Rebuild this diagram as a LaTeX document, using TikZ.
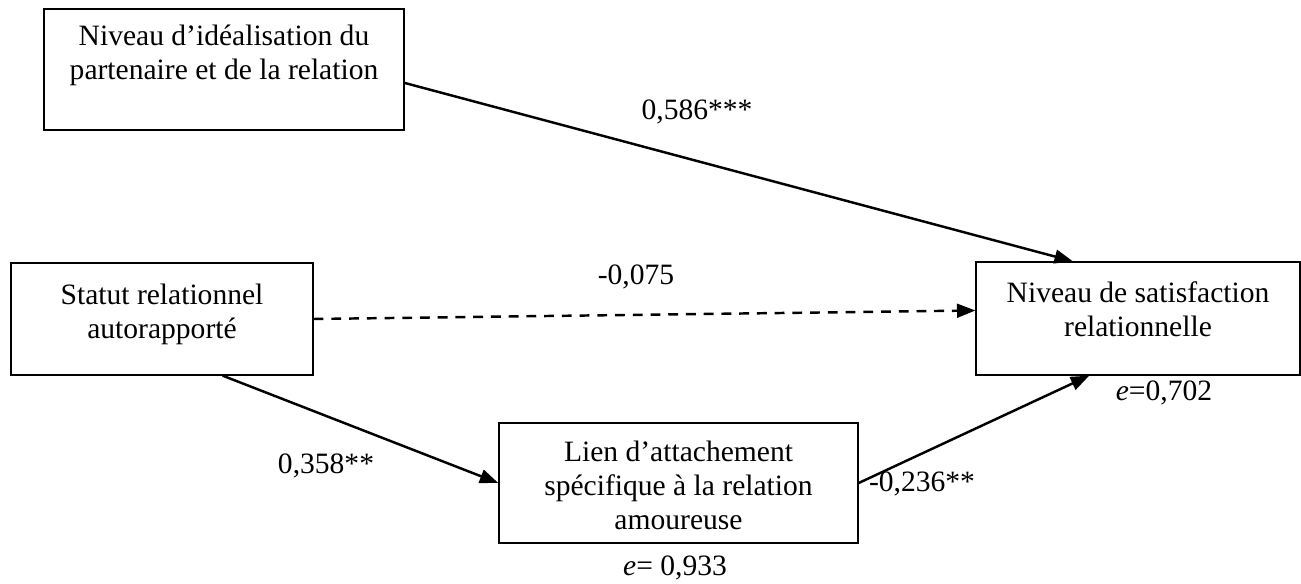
\documentclass[tikz,border=0pt]{standalone}
\usepackage{fontspec}
\setmainfont{Liberation Serif}
\usetikzlibrary{
  calc
  , arrows.meta
}

\begin{document}
\begin{tikzpicture}[x=0.406pt, y=-0.406pt,
    every node/.style={font=\fontsize{12}{13.8}\selectfont},
    varbox/.style={draw, rectangle, line width=0.5pt},
    vartext/.style={align=center, inner sep=0pt},
    effet/.style={-{Triangle[length=7.5pt,width=5.6pt]}, line width=1pt},
    coef/.style={inner sep=0pt}]
      \useasboundingbox (0,0) rectangle (1301,584);

      % variables
      \node [varbox,
        minimum width=146.2pt,
        minimum height=49.1pt,
      ] (Ideal) at (224, 69.5){};
      \node[vartext] (IdealTxt) at (224, 55) {Niveau d’idéalisation du\\partenaire et de la relation};

      \node [varbox,
        minimum width=122.6pt,
        minimum height=45.5pt,
      ] (Statut) at (162, 319){};
      \node[vartext] (StatutTxt) at (162, 314) {Statut relationnel\\autorapporté};

      \node [varbox,
        minimum width=131.5pt,
        minimum height=45.9pt,
      ] (Satisf) at (1138, 318.5){};
      \node[vartext] (SatisfTxt) at (1138, 309) {Niveau de satisfaction\\relationnelle};

      \node [varbox,
        minimum width=145.8pt,
        minimum height=48.7pt,
      ] (Lien) at (678.5, 483){};
      \node[vartext] (LienTxt) at (678.5, 485) {Lien d’attachement\\spécifique à la relation\\amoureuse};

      % effets
      \draw[effet]
      ($ (Ideal.north east)!.61!(Ideal.south east) $) coordinate (beginIdeal)
      -- ($ (Satisf.north west)!.30!(Satisf.north east) $) coordinate (endIdeal);

      \draw[effet, dash pattern=on 4pt off 3.2pt]
      (Statut.east) coordinate (beginStatut)
      -- ($ (Satisf.north west)!.43!(Satisf.south west) $) coordinate (endStatut);

      \draw[effet]
      ($ (Statut.south west)!.70!(Statut.south east) $) coordinate (beginLienIn)
      -- (Lien.west) coordinate (endLienIn);

      \draw[effet]
      (Lien.east) coordinate (beginLienOut)
      -- ($ (Satisf.south west)!.35!(Satisf.south east) $) coordinate (endLienOut);

      % coefficients
      \node[coef] (cIdeal) at (697, 112) {0,586***};
      \node[coef] (cStatut) at (636, 277) {-0,075};
      \node[coef] (cLienIn) at (326, 466) {0,358**};
      \node[coef] (cLienOut) at (922, 484) {-0,236**};
      \node[coef] (eSatisf) at (1164, 393) {\textit{e}=0,702};
      \node[coef] (eLien) at (675, 568) {\textit{e}= 0,933};

    \end{tikzpicture}
\end{document}
